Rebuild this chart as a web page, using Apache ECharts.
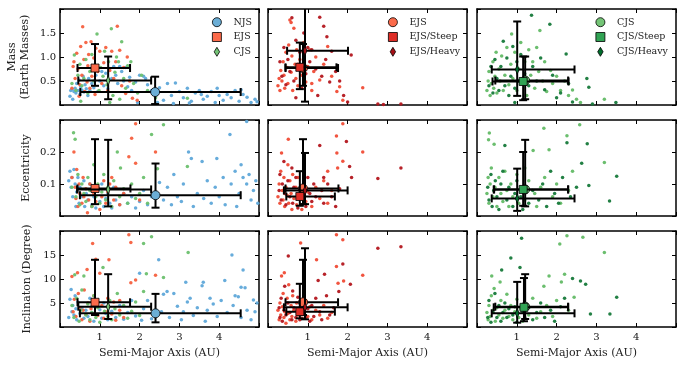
<!DOCTYPE html>
<html>
<head>
<meta charset="utf-8">
<script src="https://cdn.jsdelivr.net/npm/echarts@6/dist/echarts.min.js"></script>
<style>
html, body { margin: 0; padding: 0; background: #fff; }
#chart { width: 685px; height: 370px; }
</style>
</head>
<body>
<div id="chart"></div>
<script>
"use strict";

/*----- tick labels -----*/
var axisTicks = [1, 2, 3, 4];
var massTicks = [0.5, 1.0, 1.5];
var eccTicks = [0.1, 0.2];
var incTicks = [5, 10, 15];

/*----- means: [a, value, aLow, aHigh, valueLow, valueHigh] per row (mass, ecc, inc) -----*/
var njsMean = [[2.39, 0.27, 0.51, 4.54, 0.02, 0.59], [2.40, 0.065, 0.50, 4.54, 0.026, 0.164], [2.40, 2.85, 0.50, 4.54, 0.97, 6.9]];
var ejsMean = [[0.88, 0.77, 0.44, 1.76, 0.40, 1.27], [0.88, 0.086, 0.44, 1.77, 0.037, 0.24], [0.88, 5.15, 0.44, 1.76, 2.5, 14.0]];
var cjsMean = [[1.21, 0.51, 0.46, 2.29, 0.12, 1.01], [1.21, 0.083, 0.43, 2.29, 0.03, 0.238], [1.21, 4.23, 0.46, 2.29, 1.67, 11.0]];
var ejsSteepMean = [[0.80, 0.785, 0.44, 1.72, 0.33, 1.30], [0.80, 0.061, 0.46, 1.68, 0.032, 0.14], [0.80, 3.2, 0.46, 1.68, 1.8, 9.0]];
var ejsHeavyMean = [[0.93, 1.13, 0.48, 2.01, 0.07, 2.3], [0.93, 0.08, 0.40, 2.0, 0.037, 0.197], [0.93, 4.1, 0.40, 2.0, 1.6, 16.4]];
var cjsSteepMean = [[1.16, 0.49, 0.39, 2.30, 0.10, 1.01], [1.16, 0.083, 0.42, 2.29, 0.032, 0.2], [1.18, 4.1, 0.42, 2.29, 1.2, 10.2]];
var cjsHeavyMean = [[1.01, 0.74, 0.37, 2.45, 0.19, 1.74], [1.01, 0.055, 0.37, 2.45, 0.016, 0.148], [1.01, 2.85, 0.37, 2.45, 0.9, 9.4]];

/*----- planets: [a, mass] -----*/
var njsMass = [[0.25,0.18],[0.27,0.30],[0.3,0.33],[0.32,0.12],[0.35,0.28],[0.38,0.35],[0.4,0.25],[0.42,0.45],[0.45,0.3],[0.48,0.52],[0.5,0.22],[0.52,0.38],[0.55,0.31],[0.58,0.6],[0.6,0.27],[0.63,0.42],[0.66,0.34],[0.7,0.2],[0.72,0.55],[0.75,0.3],[0.8,0.45],[0.85,0.36],[0.9,0.62],[0.95,0.28],[1.0,0.5],[1.05,0.7],[1.1,0.4],[1.15,0.66],[1.2,0.34],[1.25,0.76],[1.3,0.55],[1.35,0.8],[1.4,0.62],[1.45,0.45],[1.5,0.8],[1.55,0.7],[1.6,0.5],[1.65,0.78],[1.7,0.38],[1.75,0.58],[1.8,0.3],[1.9,0.48],[2.0,0.62],[2.1,0.6],[2.15,0.55],[2.2,0.42],[2.3,0.3],[2.5,0.36],[2.6,0.1],[2.7,0.45],[2.8,0.2],[2.9,0.46],[3.0,0.28],[3.1,0.15],[3.2,0.35],[3.3,0.08],[3.4,0.25],[3.5,0.3],[3.6,0.12],[3.7,0.18],[3.8,0.28],[3.9,0.05],[4.0,0.2],[4.1,0.1],[4.2,0.22],[4.3,0.15],[4.4,0.3],[4.5,0.08],[4.6,0.22],[4.7,0.16],[4.8,0.05],[4.9,0.12],[4.95,0.07],[3.25,0.04],[2.45,0.05],[1.95,0.05],[2.85,0.03],[4.55,0.32],[3.95,0.35],[3.55,0.22]];
var ejsMass = [[0.3,0.35],[0.35,0.9],[0.38,0.55],[0.42,1.08],[0.45,0.75],[0.5,0.42],[0.52,1.22],[0.55,0.62],[0.57,1.63],[0.6,0.95],[0.62,0.28],[0.65,1.3],[0.68,0.48],[0.7,0.82],[0.72,1.05],[0.75,0.35],[0.78,1.32],[0.8,0.6],[0.85,0.98],[0.88,0.22],[0.9,1.18],[0.95,0.7],[1.0,1.12],[1.05,0.45],[1.1,0.88],[1.15,1.2],[1.2,0.3],[1.25,0.72],[1.3,1.12],[1.35,0.55],[1.4,0.9],[1.44,1.64],[1.5,1.14],[1.55,0.4],[1.6,0.78],[1.65,0.24],[1.69,1.0],[1.75,0.5],[1.82,0.14],[1.94,0.1],[0.33,0.8],[0.48,0.18]];
var cjsMass = [[0.3,0.45],[0.36,1.04],[0.4,0.3],[0.45,0.62],[0.5,0.85],[0.55,0.4],[0.6,0.55],[0.65,0.95],[0.7,0.25],[0.75,0.7],[0.8,1.05],[0.85,0.5],[0.93,1.48],[0.98,0.3],[1.02,0.78],[1.08,0.6],[1.12,1.12],[1.18,0.42],[1.22,0.9],[1.29,1.59],[1.33,0.2],[1.38,0.68],[1.42,1.0],[1.47,0.9],[1.5,0.12],[1.55,1.32],[1.6,0.55],[1.65,0.35],[1.7,0.82],[1.78,0.9],[1.85,0.45],[1.95,0.25],[2.05,0.62],[2.2,0.3],[2.4,0.15],[3.2,0.14],[1.25,0.05],[0.52,0.08]];
var ejsSteepMass = [[0.25,0.4],[0.28,0.55],[0.3,0.3],[0.32,0.72],[0.35,0.5],[0.38,0.9],[0.4,0.62],[0.42,0.35],[0.45,1.1],[0.48,0.78],[0.5,0.45],[0.52,1.25],[0.55,1.77],[0.58,0.68],[0.6,1.02],[0.62,0.3],[0.65,1.6],[0.68,0.85],[0.7,0.55],[0.72,1.15],[0.75,0.4],[0.8,0.95],[0.85,0.62],[0.9,1.3],[0.95,0.48],[1.0,0.8],[1.05,1.15],[1.1,0.3],[1.15,0.7],[1.2,1.0],[1.3,0.52],[1.4,0.85],[1.5,1.22],[1.6,0.6],[1.73,0.28],[1.8,0.38],[2.38,0.36],[1.88,0.1],[0.58,1.72],[1.1,0.45]];
var ejsHeavyMass = [[0.3,0.9],[0.35,0.6],[0.4,1.2],[0.45,0.42],[0.5,0.95],[0.55,0.7],[0.6,1.82],[0.65,0.5],[0.7,1.35],[0.75,0.85],[0.8,1.1],[0.85,0.35],[0.9,1.5],[0.95,0.65],[1.0,1.2],[1.05,0.9],[1.1,1.15],[1.2,0.75],[1.3,1.83],[1.35,0.6],[1.4,1.64],[1.45,0.95],[1.48,1.42],[1.55,0.48],[1.6,1.12],[1.7,0.7],[1.8,0.5],[2.09,1.04],[1.9,0.2],[2.0,0.06],[2.76,0.02],[3.34,0.02],[2.9,0.01],[1.25,0.2],[0.7,0.15]];
var cjsSteepMass = [[0.25,0.3],[0.28,0.5],[0.3,0.7],[0.33,0.2],[0.36,0.45],[0.4,0.9],[0.42,0.35],[0.45,0.6],[0.48,1.1],[0.5,0.25],[0.55,0.75],[0.58,0.5],[0.62,1.02],[0.66,0.3],[0.7,0.62],[0.75,1.2],[0.8,0.42],[0.85,0.85],[0.87,1.48],[0.9,0.55],[0.95,1.1],[1.0,0.3],[1.05,0.75],[1.1,1.3],[1.15,0.48],[1.2,0.9],[1.25,0.2],[1.3,1.15],[1.35,0.62],[1.4,0.9],[1.45,0.35],[1.5,1.2],[1.55,0.7],[1.58,1.55],[1.65,0.5],[1.7,0.9],[1.75,0.28],[1.85,0.72],[1.9,0.45],[2.0,0.6],[2.1,0.3],[2.2,0.5],[2.3,0.2],[2.4,0.31],[2.5,0.12],[2.6,0.05],[3.2,0.12]];
var cjsHeavyMass = [[0.3,0.4],[0.35,0.8],[0.4,0.25],[0.45,0.95],[0.5,0.55],[0.55,0.3],[0.6,0.8],[0.66,1.33],[0.7,0.4],[0.75,0.98],[0.8,0.2],[0.85,0.6],[0.9,1.22],[0.95,0.35],[1.0,0.9],[1.05,0.5],[1.1,1.05],[1.2,0.65],[1.3,0.4],[1.37,1.87],[1.4,0.8],[1.5,0.5],[1.6,0.98],[1.7,0.32],[1.83,1.68],[1.9,0.62],[2.0,0.15],[2.24,1.06],[2.3,0.45],[2.4,0.06],[2.76,0.55],[2.81,0.37],[3.49,0.05],[2.9,0.02],[0.95,0.05],[2.1,0.25]];

/*----- planets: [a, eccentricity] -----*/
var njsEcc = [[0.22,0.11],[0.25,0.14],[0.28,0.09],[0.3,0.12],[0.32,0.06],[0.35,0.145],[0.38,0.1],[0.4,0.03],[0.42,0.075],[0.45,0.12],[0.48,0.04],[0.5,0.09],[0.55,0.06],[0.6,0.11],[0.62,0.03],[0.66,0.07],[0.7,0.05],[0.75,0.1],[0.8,0.035],[0.85,0.06],[0.9,0.025],[0.95,0.08],[1.0,0.045],[1.05,0.1],[1.1,0.03],[1.15,0.055],[1.2,0.07],[1.25,0.04],[1.3,0.025],[1.35,0.09],[1.4,0.05],[1.5,0.035],[1.6,0.07],[1.7,0.04],[1.8,0.06],[1.9,0.025],[2.0,0.045],[2.1,0.08],[2.2,0.035],[2.3,0.06],[2.5,0.105],[2.6,0.05],[2.7,0.09],[2.8,0.035],[2.86,0.13],[2.95,0.06],[3.05,0.045],[3.1,0.1],[3.23,0.2],[3.3,0.18],[3.35,0.03],[3.45,0.07],[3.57,0.17],[3.61,0.055],[3.7,0.11],[3.8,0.04],[3.9,0.09],[3.94,0.18],[4.0,0.06],[4.1,0.12],[4.15,0.035],[4.27,0.255],[4.3,0.1],[4.4,0.14],[4.44,0.03],[4.5,0.07],[4.55,0.16],[4.6,0.12],[4.69,0.295],[4.69,0.1],[4.75,0.13],[4.8,0.05],[4.86,0.08],[4.92,0.11],[4.97,0.04]];
var ejsEcc = [[0.3,0.12],[0.35,0.2],[0.38,0.09],[0.4,0.055],[0.42,0.145],[0.45,0.03],[0.48,0.1],[0.5,0.07],[0.55,0.04],[0.58,0.12],[0.6,0.06],[0.65,0.085],[0.69,0.01],[0.72,0.05],[0.75,0.1],[0.8,0.03],[0.85,0.07],[0.9,0.045],[0.95,0.09],[1.0,0.02],[1.05,0.06],[1.1,0.11],[1.15,0.04],[1.2,0.075],[1.3,0.12],[1.35,0.05],[1.4,0.09],[1.5,0.035],[1.6,0.07],[1.73,0.185],[1.8,0.243],[1.9,0.288],[1.9,0.165],[2.0,0.05],[2.4,0.2],[1.25,0.1]];
var cjsEcc = [[0.3,0.09],[0.34,0.26],[0.38,0.24],[0.4,0.06],[0.45,0.13],[0.5,0.035],[0.55,0.1],[0.6,0.07],[0.65,0.045],[0.7,0.12],[0.75,0.08],[0.8,0.03],[0.85,0.16],[0.9,0.06],[0.95,0.1],[1.0,0.04],[1.05,0.075],[1.1,0.13],[1.15,0.05],[1.2,0.09],[1.3,0.03],[1.35,0.11],[1.44,0.2],[1.5,0.06],[1.52,0.15],[1.6,0.085],[1.7,0.04],[1.8,0.1],[1.9,0.055],[2.1,0.12],[2.2,0.04],[2.3,0.255],[2.45,0.148],[2.6,0.285],[3.2,0.155],[2.0,0.07]];
var ejsSteepEcc = [[0.25,0.06],[0.28,0.1],[0.3,0.04],[0.32,0.14],[0.34,0.197],[0.36,0.08],[0.38,0.05],[0.4,0.12],[0.42,0.03],[0.45,0.09],[0.48,0.065],[0.5,0.16],[0.51,0.24],[0.52,0.04],[0.55,0.11],[0.58,0.07],[0.6,0.02],[0.62,0.13],[0.65,0.055],[0.7,0.09],[0.72,0.035],[0.75,0.12],[0.8,0.06],[0.85,0.02],[0.9,0.1],[0.95,0.045],[1.0,0.075],[1.1,0.03],[1.2,0.09],[1.3,0.055],[1.4,0.11],[1.5,0.04],[1.6,0.08],[1.72,0.25],[1.73,0.197],[1.75,0.15],[1.88,0.288],[1.88,0.171],[2.38,0.2],[1.5,0.14]];
var ejsHeavyEcc = [[0.28,0.08],[0.3,0.13],[0.33,0.05],[0.36,0.1],[0.4,0.17],[0.42,0.07],[0.45,0.035],[0.5,0.11],[0.55,0.06],[0.6,0.15],[0.62,0.04],[0.65,0.09],[0.7,0.12],[0.75,0.025],[0.8,0.08],[0.85,0.055],[0.9,0.1],[0.95,0.03],[1.0,0.12],[1.05,0.07],[1.1,0.045],[1.15,0.1],[1.2,0.06],[1.3,0.22],[1.35,0.08],[1.4,0.04],[1.5,0.1],[1.6,0.06],[1.7,0.03],[1.8,0.085],[1.97,0.233],[2.05,0.155],[2.1,0.12],[2.76,0.117],[3.34,0.15],[1.4,0.12]];
var cjsSteepEcc = [[0.25,0.07],[0.28,0.12],[0.29,0.238],[0.3,0.04],[0.31,0.259],[0.33,0.1],[0.36,0.15],[0.4,0.06],[0.43,0.224],[0.45,0.09],[0.5,0.03],[0.55,0.12],[0.6,0.07],[0.65,0.045],[0.7,0.14],[0.75,0.08],[0.8,0.03],[0.85,0.1],[0.9,0.06],[1.0,0.13],[1.05,0.04],[1.1,0.08],[1.2,0.05],[1.3,0.11],[1.41,0.205],[1.45,0.07],[1.5,0.03],[1.6,0.09],[1.68,0.274],[1.7,0.12],[1.81,0.207],[1.9,0.06],[2.0,0.1],[2.1,0.04],[2.26,0.251],[2.3,0.08],[2.4,0.14],[2.58,0.285],[3.2,0.167],[1.2,0.15]];
var cjsHeavyEcc = [[0.27,0.09],[0.3,0.05],[0.35,0.13],[0.38,0.03],[0.42,0.08],[0.46,0.11],[0.5,0.06],[0.55,0.02],[0.6,0.1],[0.65,0.14],[0.7,0.22],[0.75,0.05],[0.8,0.09],[0.9,0.03],[0.95,0.07],[1.0,0.11],[1.1,0.06],[1.15,0.02],[1.2,0.09],[1.3,0.04],[1.4,0.08],[1.55,0.05],[1.65,0.1],[1.75,0.03],[1.85,0.14],[1.95,0.07],[2.05,0.04],[2.15,0.12],[2.26,0.229],[2.35,0.06],[2.5,0.09],[2.63,0.165],[2.77,0.226],[2.81,0.095],[3.33,0.047],[3.51,0.124]];

/*----- planets: [a, inclination] -----*/
var njsInc = [[0.22,2.0],[0.25,5.8],[0.28,7.8],[0.3,3.2],[0.32,4.5],[0.35,2.5],[0.38,6.5],[0.4,3.8],[0.42,1.5],[0.45,5.2],[0.5,2.8],[0.55,4.0],[0.6,1.8],[0.65,3.5],[0.7,2.2],[0.75,6.0],[0.8,3.0],[0.85,1.2],[0.9,4.2],[0.95,2.5],[1.0,3.6],[1.05,1.8],[1.1,5.0],[1.15,2.8],[1.2,1.5],[1.3,3.3],[1.4,2.0],[1.5,4.5],[1.6,1.6],[1.7,3.0],[1.8,5.5],[1.9,2.3],[2.0,11.2],[2.05,1.4],[2.1,3.8],[2.2,5.5],[2.3,1.7],[2.48,14.0],[2.55,3.2],[2.6,6.8],[2.69,7.4],[2.75,2.0],[2.86,7.0],[2.95,4.3],[3.05,1.5],[3.1,3.2],[3.16,9.3],[3.2,5.2],[3.27,6.0],[3.35,2.4],[3.45,4.0],[3.57,8.6],[3.6,9.3],[3.65,1.2],[3.7,3.5],[3.77,6.0],[3.85,4.8],[3.95,2.2],[4.05,5.5],[4.14,9.7],[4.2,3.0],[4.32,15.0],[4.35,4.5],[4.4,6.5],[4.48,6.3],[4.55,2.0],[4.6,11.9],[4.65,8.2],[4.7,3.5],[4.8,1.5],[4.86,5.6],[4.9,3.2],[4.95,5.0],[4.55,8.3]];
var ejsInc = [[0.3,10.5],[0.33,3.2],[0.36,5.8],[0.4,2.2],[0.44,11.3],[0.46,7.0],[0.5,4.0],[0.55,1.5],[0.58,3.5],[0.61,7.7],[0.65,2.6],[0.7,5.0],[0.75,1.2],[0.78,3.8],[0.82,17.4],[0.85,6.5],[0.9,14.1],[0.95,2.4],[1.0,11.2],[1.05,4.5],[1.1,1.8],[1.15,3.2],[1.2,6.0],[1.23,14.0],[1.3,2.7],[1.35,5.2],[1.4,1.4],[1.5,3.5],[1.6,2.0],[1.73,19.2],[1.78,17.6],[1.78,9.2],[1.9,9.8],[2.4,10.8],[1.5,5.5],[0.68,12.0]];
var cjsInc = [[0.3,4.5],[0.35,2.0],[0.37,10.9],[0.42,6.0],[0.48,1.2],[0.52,3.5],[0.55,7.7],[0.6,10.6],[0.65,2.5],[0.7,4.8],[0.75,1.5],[0.8,3.0],[0.85,6.5],[0.9,2.0],[0.95,4.0],[1.0,1.0],[1.08,12.4],[1.12,3.3],[1.2,2.2],[1.25,5.5],[1.3,1.5],[1.38,3.8],[1.44,7.0],[1.5,2.5],[1.6,4.5],[1.7,1.8],[1.8,3.3],[1.9,5.2],[2.0,2.4],[2.1,17.4],[2.1,7.4],[2.17,11.1],[2.3,18.8],[2.4,3.5],[2.6,10.3],[3.22,15.5]];
var ejsSteepInc = [[0.25,3.5],[0.28,1.5],[0.3,5.0],[0.32,2.5],[0.34,10.6],[0.36,4.2],[0.38,7.0],[0.4,2.0],[0.41,11.3],[0.42,3.2],[0.45,0.8],[0.48,6.0],[0.5,2.8],[0.52,8.8],[0.55,1.5],[0.58,4.5],[0.6,2.2],[0.62,6.5],[0.65,3.5],[0.7,1.2],[0.72,5.0],[0.75,2.5],[0.8,4.0],[0.82,17.5],[0.85,1.8],[0.9,3.0],[0.95,5.5],[1.0,2.2],[1.05,4.2],[1.1,1.5],[1.2,3.5],[1.22,14.0],[1.3,2.5],[1.4,4.5],[1.5,1.8],[1.6,3.0],[1.72,19.2],[1.72,12.6],[1.76,9.1],[1.9,9.6],[2.38,10.8],[1.88,18.2]];
var ejsHeavyInc = [[0.28,4.0],[0.3,2.0],[0.33,6.0],[0.36,1.2],[0.4,3.5],[0.42,8.5],[0.45,2.5],[0.5,5.0],[0.51,14.8],[0.55,3.0],[0.6,1.5],[0.62,7.5],[0.65,4.0],[0.7,2.0],[0.75,6.2],[0.8,1.5],[0.85,3.5],[0.9,5.0],[0.95,2.0],[1.0,3.8],[1.05,1.2],[1.1,4.5],[1.15,2.2],[1.2,6.0],[1.26,9.7],[1.3,3.2],[1.35,1.5],[1.42,11.0],[1.47,6.5],[1.55,2.5],[1.65,4.0],[1.78,7.4],[1.88,13.1],[2.07,8.9],[2.76,16.4],[3.34,16.7]];
var cjsSteepInc = [[0.25,3.0],[0.28,1.5],[0.3,4.5],[0.33,2.2],[0.36,6.5],[0.37,10.6],[0.4,3.5],[0.43,8.0],[0.46,1.2],[0.5,4.0],[0.55,2.5],[0.58,9.4],[0.6,5.5],[0.65,1.8],[0.7,3.5],[0.75,6.8],[0.8,2.2],[0.85,4.5],[0.9,1.5],[0.95,3.2],[1.0,5.8],[1.05,2.0],[1.1,3.8],[1.15,1.2],[1.2,4.8],[1.3,2.5],[1.4,6.0],[1.5,1.8],[1.6,3.2],[1.68,8.5],[1.75,4.5],[1.81,10.6],[1.9,2.2],[2.0,5.5],[2.08,17.3],[2.12,9.4],[2.2,11.0],[2.26,19.0],[2.3,3.5],[2.44,6.2],[2.66,18.7],[3.2,15.5]];
var cjsHeavyInc = [[0.27,2.0],[0.3,5.5],[0.35,1.0],[0.4,3.0],[0.45,7.0],[0.5,2.0],[0.55,4.5],[0.6,1.2],[0.62,11.9],[0.65,3.0],[0.7,5.0],[0.75,2.0],[0.8,3.8],[0.85,14.4],[0.9,2.5],[0.95,4.2],[1.0,1.0],[1.08,12.4],[1.12,18.5],[1.15,3.2],[1.2,2.0],[1.3,4.0],[1.4,1.5],[1.5,3.0],[1.6,5.0],[1.7,2.0],[1.85,3.5],[1.95,1.2],[2.1,4.2],[2.2,6.0],[2.4,10.1],[2.6,9.6],[2.73,8.9],[2.85,2.7],[3.34,2.7],[3.51,6.2]];

/*----- layout -----*/
var FONT = 'DejaVu Serif';
var thinDiamond = 'path://M3,0L6,5L3,10L0,5Z';
var gridLeft = [60, 268, 477];
var gridTop = [9, 120, 231];
var rowMax = [2, 0.3, 20];
var rowStep = [0.5, 0.1, 5];
var rowTicks = [massTicks, eccTicks, incTicks];
var rowNames = ['Mass\n(Earth Masses)', 'Eccentricity', 'Inclinaton (Degree)'];
var rowNameGap = [28, 27, 26];

var dotSets = [
	[
		{ rows: [njsMass, njsEcc, njsInc], color: '#5fa8d9' },
		{ rows: [ejsMass, ejsEcc, ejsInc], color: '#f6603f' },
		{ rows: [cjsMass, cjsEcc, cjsInc], color: '#6cc06e' }
	],
	[
		{ rows: [ejsSteepMass, ejsSteepEcc, ejsSteepInc], color: '#f04b35' },
		{ rows: [ejsHeavyMass, ejsHeavyEcc, ejsHeavyInc], color: '#b3161d' }
	],
	[
		{ rows: [cjsSteepMass, cjsSteepEcc, cjsSteepInc], color: '#63bb66' },
		{ rows: [cjsHeavyMass, cjsHeavyEcc, cjsHeavyInc], color: '#16793a' }
	]
];
var meanSets = [
	[
		{ name: 'NJS', mean: njsMean, color: '#6baed6', symbol: 'circle', size: 9 },
		{ name: 'EJS', mean: ejsMean, color: '#fb6a4a', symbol: 'rect', size: 8 },
		{ name: 'CJS', mean: cjsMean, color: '#74c476', symbol: thinDiamond, size: [6, 10] }
	],
	[
		{ name: 'EJS', mean: ejsMean, color: '#fb6a4a', symbol: 'circle', size: 9 },
		{ name: 'EJS/Steep', mean: ejsSteepMean, color: '#de2d26', symbol: 'rect', size: 8 },
		{ name: 'EJS/Heavy', mean: ejsHeavyMean, color: '#a50f15', symbol: thinDiamond, size: [6, 10] }
	],
	[
		{ name: 'CJS', mean: cjsMean, color: '#74c476', symbol: 'circle', size: 9 },
		{ name: 'CJS/Steep', mean: cjsSteepMean, color: '#31a354', symbol: 'rect', size: 8 },
		{ name: 'CJS/Heavy', mean: cjsHeavyMean, color: '#006d2c', symbol: thinDiamond, size: [6, 10] }
	]
];
var legendLeft = [212, 388, 595.5];

function hasTick(list, v) {
	return list.some(function (t) { return Math.abs(t - v) < 1e-6; });
}

function renderErr(params, api) {
	var x = api.value(0), y = api.value(1);
	var l = api.coord([api.value(2), y]);
	var r = api.coord([api.value(3), y]);
	var b = api.coord([x, api.value(4)]);
	var t = api.coord([x, api.value(5)]);
	var cap = 4;
	var st = { stroke: '#000', lineWidth: 2, fill: null };
	return {
		type: 'group',
		children: [
			{ type: 'line', shape: { x1: l[0], y1: l[1], x2: r[0], y2: r[1] }, style: st },
			{ type: 'line', shape: { x1: l[0], y1: l[1] - cap, x2: l[0], y2: l[1] + cap }, style: st },
			{ type: 'line', shape: { x1: r[0], y1: r[1] - cap, x2: r[0], y2: r[1] + cap }, style: st },
			{ type: 'line', shape: { x1: b[0], y1: b[1], x2: t[0], y2: t[1] }, style: st },
			{ type: 'line', shape: { x1: b[0] - cap, y1: b[1], x2: b[0] + cap, y2: b[1] }, style: st },
			{ type: 'line', shape: { x1: t[0] - cap, y1: t[1], x2: t[0] + cap, y2: t[1] }, style: st }
		]
	};
}

var grids = [], xAxes = [], yAxes = [], series = [], legends = [];
var axisLineStyle = { show: true, onZero: false, lineStyle: { color: '#000', width: 1.5 } };
var tickStyle = { show: true, inside: true, length: 4, lineStyle: { color: '#000', width: 1 } };

for (var r = 0; r < 3; r++) {
	for (var c = 0; c < 3; c++) {
		var g = r * 3 + c;
		grids.push({ left: gridLeft[c], top: gridTop[r], width: 199, height: 96 });
		var ticks = rowTicks[r];
		var row = r;
		xAxes.push({
			gridIndex: g, type: 'value', position: 'bottom', min: 0, max: 5, interval: 1,
			axisLine: axisLineStyle, axisTick: tickStyle, splitLine: { show: false },
			axisLabel: {
				show: r === 2, margin: 5, fontFamily: FONT, fontSize: 10, color: '#111',
				formatter: function (v) { return hasTick(axisTicks, v) ? String(v) : ''; }
			},
			name: r === 2 ? 'Semi-Major Axis (AU)' : '', nameLocation: 'middle', nameGap: 21,
			nameTextStyle: { fontFamily: FONT, fontSize: 11, color: '#222' }
		});
		yAxes.push({
			gridIndex: g, type: 'value', position: 'left', min: 0, max: rowMax[r], interval: rowStep[r],
			axisLine: axisLineStyle, axisTick: tickStyle, splitLine: { show: false },
			axisLabel: {
				show: c === 0, margin: 4, fontFamily: FONT, fontSize: 10, color: '#111',
				formatter: (function (tl, rr) {
					return function (v) {
						if (!hasTick(tl, v)) return '';
						return rr === 2 ? String(Math.round(v)) : v.toFixed(1);
					};
				})(ticks, row)
			},
			name: c === 0 ? rowNames[r] : '', nameLocation: 'middle', nameGap: rowNameGap[r],
			nameTextStyle: { fontFamily: FONT, fontSize: 11, color: '#222', lineHeight: 13 }
		});
	}
}
// mirror axes for the top and right tick marks
for (var k = 0; k < 9; k++) {
	var rr2 = Math.floor(k / 3);
	xAxes.push({
		gridIndex: k, type: 'value', position: 'top', min: 0, max: 5, interval: 1,
		axisLine: axisLineStyle, axisTick: tickStyle, axisLabel: { show: false }, splitLine: { show: false }
	});
	yAxes.push({
		gridIndex: k, type: 'value', position: 'right', min: 0, max: rowMax[rr2], interval: rowStep[rr2],
		axisLine: axisLineStyle, axisTick: tickStyle, axisLabel: { show: false }, splitLine: { show: false }
	});
}

for (var r3 = 0; r3 < 3; r3++) {
	for (var c3 = 0; c3 < 3; c3++) {
		var gi = r3 * 3 + c3;
		dotSets[c3].forEach(function (d, i) {
			series.push({
				name: 'dots' + gi + '_' + i, type: 'scatter', xAxisIndex: gi, yAxisIndex: gi,
				data: d.rows[r3], symbolSize: 3.5, itemStyle: { color: d.color, opacity: 0.95 },
				z: 2, silent: true
			});
		});
		meanSets[c3].forEach(function (m, i) {
			var mv = m.mean[r3];
			series.push({
				name: 'err' + gi + '_' + i, type: 'custom', xAxisIndex: gi, yAxisIndex: gi,
				data: [mv], renderItem: renderErr, clip: true, z: 3 + i * 2, silent: true
			});
			series.push({
				name: m.name + '@' + c3, type: 'scatter', xAxisIndex: gi, yAxisIndex: gi,
				data: [[mv[0], mv[1]]], symbol: m.symbol, symbolSize: m.size, symbolKeepAspect: true,
				itemStyle: { color: m.color, borderColor: '#000', borderWidth: 0.8, opacity: 1 },
				z: 4 + i * 2, silent: true
			});
		});
	}
}

for (var c4 = 0; c4 < 3; c4++) {
	legends.push({
		orient: 'vertical', left: legendLeft[c4], top: 17.2, padding: 0,
		itemWidth: 9, itemHeight: 9, itemGap: 4.8, selectedMode: false,
		data: meanSets[c4].map(function (m) {
			return {
				name: m.name + '@' + c4,
				icon: m.symbol,
				itemStyle: { color: m.color, borderColor: '#000', borderWidth: 0.8 }
			};
		}),
		formatter: function (n) { return n.split('@')[0]; },
		textStyle: { fontFamily: FONT, fontSize: 9.5, color: '#222', lineHeight: 9, padding: [0, 0, 0, 7] }
	});
}

var chart = echarts.init(document.getElementById('chart'), null, { renderer: 'canvas' });
chart.setOption({
	animation: false,
	backgroundColor: '#fff',
	grid: grids,
	xAxis: xAxes,
	yAxis: yAxes,
	legend: legends,
	series: series
});
</script>
</body>
</html>
